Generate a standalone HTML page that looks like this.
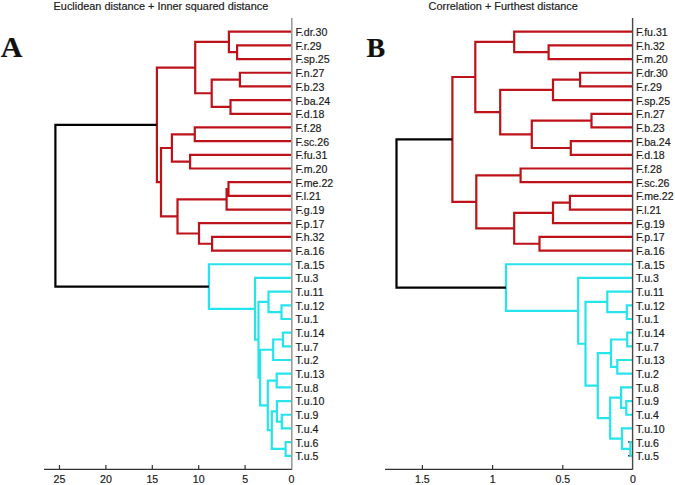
<!DOCTYPE html>
<html><head><meta charset="utf-8"><style>
html,body{margin:0;padding:0;background:#fff;}
body{width:675px;height:485px;overflow:hidden;}
svg{display:block;}
text{font-family:"Liberation Sans",sans-serif;font-size:10.6px;fill:#1a1a1a;stroke:#1a1a1a;stroke-width:0.18px;}
</style></head><body>
<svg width="675" height="485" viewBox="0 0 675 485">
<rect width="675" height="485" fill="#fff"/>
<text x="53.6" y="9.9" style="font-size:10.9px">Euclidean distance + Inner squared distance</text>
<text x="428.6" y="9.9" style="font-size:10.9px">Correlation + Furthest distance</text>
<text x="0.8" y="56.8" style="font-family:'Liberation Serif',serif;font-weight:bold;font-size:30px;fill:#111">A</text>
<text x="366.5" y="56.8" style="font-family:'Liberation Serif',serif;font-weight:bold;font-size:28px;fill:#111">B</text>
<g fill="none" stroke-width="2.2" stroke-linejoin="miter" stroke-linecap="butt">
<path d="M291.8,45.38H237.1V59.06H291.8 M291.8,31.70H228.9V52.22H237.1 M291.8,72.74H239.9V86.42H291.8 M291.8,100.10H230.5V113.78H291.8 M239.9,79.58H211.7V106.94H230.5 M228.9,41.96H195.2V93.26H211.7 M291.8,127.46H194.8V141.14H291.8 M291.8,154.82H190.1V168.50H291.8 M194.8,134.30H171.9V161.66H190.1 M291.8,182.18H228.5V195.86H291.8 M228.5,189.02H226.6V209.54H291.8 M291.8,236.90H212.1V250.58H291.8 M291.8,223.22H199.0V243.74H212.1 M226.6,199.28H177.5V233.48H199.0 M171.9,147.98H161.0V216.38H177.5 M195.2,67.61H156.9V182.18H161.0" stroke="#bd1219"/>
<path d="M291.8,305.30H281.5V318.98H291.8 M291.8,291.62H268.5V312.14H281.5 M291.8,332.66H282.9V346.34H291.8 M282.9,339.50H273.2V360.02H291.8 M291.8,373.70H276.7V387.38H291.8 M291.8,414.74H281.8V428.42H291.8 M291.8,401.06H276.9V421.58H281.8 M291.8,442.10H285.6V455.78H291.8 M276.9,411.32H271.8V448.94H285.6 M276.7,380.54H267.8V430.13H271.8 M273.2,349.76H260.1V405.33H267.8 M268.5,301.88H258.5V377.55H260.1 M291.8,277.94H255.0V339.71H258.5 M291.8,264.26H208.9V308.83H255.0" stroke="#26e4ec"/>
<path d="M156.9,124.89H55.4V286.54H208.9" stroke="#000"/>
<path d="M632.6,45.38H548.6V59.06H632.6 M632.6,31.70H514.2V52.22H548.6 M632.6,72.74H580.1V86.42H632.6 M580.1,79.58H553.0V100.10H632.6 M632.6,113.78H591.5V127.46H632.6 M632.6,141.14H570.8V154.82H632.6 M591.5,120.62H531.8V147.98H570.8 M553.0,89.84H500.2V134.30H531.8 M514.2,41.96H475.3V112.07H500.2 M632.6,168.50H520.6V182.18H632.6 M632.6,195.86H569.9V209.54H632.6 M569.9,202.70H553.0V223.22H632.6 M632.6,236.90H539.5V250.58H632.6 M553.0,212.96H514.2V243.74H539.5 M520.6,175.34H476.3V228.35H514.2 M475.3,77.02H452.4V201.84H476.3" stroke="#bd1219"/>
<path d="M632.6,305.30H626.8V318.98H632.6 M632.6,291.62H607.3V312.14H626.8 M632.6,332.66H627.2V346.34H632.6 M632.6,360.02H617.3V373.70H632.6 M627.2,339.50H611.0V366.86H617.3 M632.6,401.06H626.3V414.74H632.6 M632.6,387.38H621.1V407.90H626.3 M632.6,442.10H630.4V455.78H632.6 M632.6,428.42H622.0V448.94H630.4 M621.1,397.64H610.2V438.68H622.0 M611.0,353.18H597.8V418.16H610.2 M607.3,301.88H585.5V385.67H597.8 M632.6,277.94H578.2V343.77H585.5 M632.6,264.26H506.0V310.86H578.2" stroke="#26e4ec"/>
<path d="M452.4,139.43H396.5V287.56H506.0" stroke="#000"/>
</g>
<path d="M291.8,18V469.4" stroke="#9a9c9a" stroke-width="1.6" fill="none"/>
<path d="M632.6,18V469.4" stroke="#484848" stroke-width="1.4" fill="none"/>
<path d="M44,469.4H291.8 M385,469.4H632.6 M59.5,469.4V464.9 M105.9,469.4V464.9 M152.3,469.4V464.9 M198.7,469.4V464.9 M245.1,469.4V464.9 M422.4,469.4V464.9 M492.6,469.4V464.9 M562.8,469.4V464.9" stroke="#333" stroke-width="1.2" fill="none"/>
<path d="M628,442.10H629.6 M628,455.78H629.6" stroke="#444" stroke-width="1.5"/>
<text x="295.5" y="36.10">F.dr.30</text>
<text x="295.5" y="49.78">F.r.29</text>
<text x="295.5" y="63.46">F.sp.25</text>
<text x="295.5" y="77.14">F.n.27</text>
<text x="295.5" y="90.82">F.b.23</text>
<text x="295.5" y="104.50">F.ba.24</text>
<text x="295.5" y="118.18">F.d.18</text>
<text x="295.5" y="131.86">F.f.28</text>
<text x="295.5" y="145.54">F.sc.26</text>
<text x="295.5" y="159.22">F.fu.31</text>
<text x="295.5" y="172.90">F.m.20</text>
<text x="295.5" y="186.58">F.me.22</text>
<text x="295.5" y="200.26">F.l.21</text>
<text x="295.5" y="213.94">F.g.19</text>
<text x="295.5" y="227.62">F.p.17</text>
<text x="295.5" y="241.30">F.h.32</text>
<text x="295.5" y="254.98">F.a.16</text>
<text x="295.5" y="268.66">T.a.15</text>
<text x="295.5" y="282.34">T.u.3</text>
<text x="295.5" y="296.02">T.u.11</text>
<text x="295.5" y="309.70">T.u.12</text>
<text x="295.5" y="323.38">T.u.1</text>
<text x="295.5" y="337.06">T.u.14</text>
<text x="295.5" y="350.74">T.u.7</text>
<text x="295.5" y="364.42">T.u.2</text>
<text x="295.5" y="378.10">T.u.13</text>
<text x="295.5" y="391.78">T.u.8</text>
<text x="295.5" y="405.46">T.u.10</text>
<text x="295.5" y="419.14">T.u.9</text>
<text x="295.5" y="432.82">T.u.4</text>
<text x="295.5" y="446.50">T.u.6</text>
<text x="295.5" y="460.18">T.u.5</text>
<text x="635.9" y="36.10">F.fu.31</text>
<text x="635.9" y="49.78">F.h.32</text>
<text x="635.9" y="63.46">F.m.20</text>
<text x="635.9" y="77.14">F.dr.30</text>
<text x="635.9" y="90.82">F.r.29</text>
<text x="635.9" y="104.50">F.sp.25</text>
<text x="635.9" y="118.18">F.n.27</text>
<text x="635.9" y="131.86">F.b.23</text>
<text x="635.9" y="145.54">F.ba.24</text>
<text x="635.9" y="159.22">F.d.18</text>
<text x="635.9" y="172.90">F.f.28</text>
<text x="635.9" y="186.58">F.sc.26</text>
<text x="635.9" y="200.26">F.me.22</text>
<text x="635.9" y="213.94">F.l.21</text>
<text x="635.9" y="227.62">F.g.19</text>
<text x="635.9" y="241.30">F.p.17</text>
<text x="635.9" y="254.98">F.a.16</text>
<text x="635.9" y="268.66">T.a.15</text>
<text x="635.9" y="282.34">T.u.3</text>
<text x="635.9" y="296.02">T.u.11</text>
<text x="635.9" y="309.70">T.u.12</text>
<text x="635.9" y="323.38">T.u.1</text>
<text x="635.9" y="337.06">T.u.14</text>
<text x="635.9" y="350.74">T.u.7</text>
<text x="635.9" y="364.42">T.u.13</text>
<text x="635.9" y="378.10">T.u.2</text>
<text x="635.9" y="391.78">T.u.8</text>
<text x="635.9" y="405.46">T.u.9</text>
<text x="635.9" y="419.14">T.u.4</text>
<text x="635.9" y="432.82">T.u.10</text>
<text x="635.9" y="446.50">T.u.6</text>
<text x="635.9" y="460.18">T.u.5</text>
<text x="59.5" y="483.2" text-anchor="middle">25</text>
<text x="105.9" y="483.2" text-anchor="middle">20</text>
<text x="152.3" y="483.2" text-anchor="middle">15</text>
<text x="198.7" y="483.2" text-anchor="middle">10</text>
<text x="245.1" y="483.2" text-anchor="middle">5</text>
<text x="291.5" y="483.2" text-anchor="middle">0</text>
<text x="422.4" y="483.2" text-anchor="middle">1.5</text>
<text x="492.6" y="483.2" text-anchor="middle">1</text>
<text x="562.8" y="483.2" text-anchor="middle">0.5</text>
<text x="633.0" y="483.2" text-anchor="middle">0</text>
</svg>
</body></html>
